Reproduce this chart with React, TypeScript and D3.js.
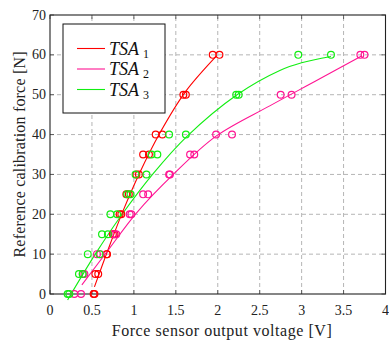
import { useEffect, useRef } from "react";
import * as d3 from "d3";

// measured force steps [N]
const forces = [0, 5, 10, 15, 20, 25, 30, 35, 40, 50, 60];

// sensor output voltages [V], two runs per sensor
const tsa1RunA = [0.52, 0.54, 0.675, 0.75, 0.83, 0.91, 1.03, 1.11, 1.26, 1.59, 1.94];
const tsa1RunB = [0.53, 0.575, 0.68, 0.77, 0.85, 0.94, 1.06, 1.18, 1.34, 1.62, 2.02];
const tsa2RunA = [0.29, 0.39, 0.56, 0.76, 0.95, 1.11, 1.42, 1.67, 1.98, 2.75, 3.7];
const tsa2RunB = [0.37, 0.41, 0.6, 0.79, 0.97, 1.17, 1.43, 1.72, 2.17, 2.88, 3.75];
const tsa3RunA = [0.21, 0.345, 0.45, 0.62, 0.72, 0.92, 1.02, 1.21, 1.42, 2.22, 2.96];
const tsa3RunB = [0.23, 0.39, 0.59, 0.69, 0.8, 0.96, 1.15, 1.28, 1.62, 2.25, 3.35];

// fitted curves
const tsa1FitV = [0.53, 0.69, 0.86, 1.06, 1.31, 1.61, 1.98];
const tsa1FitF = [1.8, 11, 20.3, 30, 40.4, 50.6, 59.6];
const tsa2FitV = [0.38, 0.7, 1.03, 1.47, 1.98, 2.62, 3.2, 3.72];
const tsa2FitF = [2.3, 11.2, 20.3, 30, 39.6, 47.2, 53.8, 59.8];
const tsa3FitV = [0.21, 0.54, 0.86, 1.23, 1.63, 2.23, 2.74, 3.0, 3.35];
const tsa3FitF = [-1.5, 10, 20, 30.2, 39.5, 50, 56.1, 58, 59.6];

const xTicks = [0, 0.5, 1, 1.5, 2, 2.5, 3, 3.5, 4];
const yTicks = [0, 10, 20, 30, 40, 50, 60, 70];

const seriesNames = ["1", "2", "3"];
const seriesColors = ["#ff0000", "#ff1493", "#11ee11"];

function App() {
    const svgRef = useRef<SVGSVGElement>(null);

    useEffect(() => {
        document.body.style.margin = "0";
        const Width = 389;
        const Height = 341;
        const Margin = { top: 15, right: 3.5, bottom: 47, left: 50 };

        const svg = d3.select(svgRef.current).attr("width", Width).attr("height", Height);
        svg.selectAll("*").remove();

        const xScale = d3.scaleLinear().domain([0, 4]).range([Margin.left, Width - Margin.right]);
        const yScale = d3.scaleLinear().domain([0, 70]).range([Height - Margin.bottom, Margin.top]);
        const [x0, x1] = xScale.range();
        const [y0, y1] = yScale.range();

        const font = '"Liberation Serif", "DejaVu Serif", serif';

        // grid
        svg.append("g")
            .selectAll("line")
            .data(xTicks.slice(1, -1))
            .join("line")
            .attr("x1", (d) => xScale(d))
            .attr("x2", (d) => xScale(d))
            .attr("y1", y0)
            .attr("y2", y1)
            .attr("stroke", "#b5b5b5")
            .attr("stroke-dasharray", "4,3");
        svg.append("g")
            .selectAll("line")
            .data(yTicks.slice(1, -1))
            .join("line")
            .attr("x1", x0)
            .attr("x2", x1)
            .attr("y1", (d) => yScale(d))
            .attr("y2", (d) => yScale(d))
            .attr("stroke", "#b5b5b5")
            .attr("stroke-dasharray", "4,3");

        // inner tick marks on all sides
        const ticks = svg.append("g").attr("stroke", "#444").attr("stroke-width", 0.8);
        xTicks.forEach((t) => {
            ticks.append("line").attr("x1", xScale(t)).attr("x2", xScale(t)).attr("y1", y0).attr("y2", y0 - 4);
            ticks.append("line").attr("x1", xScale(t)).attr("x2", xScale(t)).attr("y1", y1).attr("y2", y1 + 4);
        });
        yTicks.forEach((t) => {
            ticks.append("line").attr("x1", x0).attr("x2", x0 + 4).attr("y1", yScale(t)).attr("y2", yScale(t));
            ticks.append("line").attr("x1", x1).attr("x2", x1 - 4).attr("y1", yScale(t)).attr("y2", yScale(t));
        });

        // frame
        svg.append("rect")
            .attr("x", x0)
            .attr("y", y1)
            .attr("width", x1 - x0)
            .attr("height", y0 - y1)
            .attr("fill", "none")
            .attr("stroke", "#222")
            .attr("stroke-width", 1.1);

        // tick labels
        svg.append("g")
            .selectAll("text")
            .data(xTicks)
            .join("text")
            .attr("x", (d) => xScale(d))
            .attr("y", y0 + 21)
            .attr("text-anchor", "middle")
            .style("font-family", font)
            .style("font-size", "14px")
            .attr("fill", "#222")
            .text((d) => String(d));
        svg.append("g")
            .selectAll("text")
            .data(yTicks)
            .join("text")
            .attr("x", x0 - 4)
            .attr("y", (d) => yScale(d) + 4.5)
            .attr("text-anchor", "end")
            .style("font-family", font)
            .style("font-size", "14px")
            .attr("fill", "#222")
            .text((d) => String(d));

        // axis labels
        svg.append("text")
            .attr("x", (x0 + x1) / 2 + 4)
            .attr("y", Height - 5)
            .attr("text-anchor", "middle")
            .style("font-family", font)
            .style("font-size", "16px")
            .attr("fill", "#222")
            .attr("textLength", 220)
            .attr("lengthAdjust", "spacing")
            .text("Force sensor output voltage [V]");
        svg.append("text")
            .attr("transform", `translate(25, ${(y0 + y1) / 2}) rotate(-90)`)
            .attr("text-anchor", "middle")
            .style("font-family", font)
            .style("font-size", "16px")
            .attr("fill", "#222")
            .attr("textLength", 206)
            .attr("lengthAdjust", "spacing")
            .text("Reference calibration force [N]");

        // fitted curves
        const fitLine = d3
            .line<[number, number]>()
            .x((d) => xScale(d[0]))
            .y((d) => yScale(d[1]))
            .curve(d3.curveCatmullRom.alpha(0.5));
        const fits: [number[], number[]][] = [
            [tsa1FitV, tsa1FitF],
            [tsa2FitV, tsa2FitF],
            [tsa3FitV, tsa3FitF],
        ];
        fits.forEach(([vs, fs], i) => {
            svg.append("path")
                .attr("d", fitLine(vs.map((v, j) => [v, fs[j]] as [number, number])))
                .attr("fill", "none")
                .attr("stroke", seriesColors[i])
                .attr("stroke-width", 1.1);
        });

        // measurement circles
        const runs = [
            [tsa1RunA, tsa1RunB],
            [tsa2RunA, tsa2RunB],
            [tsa3RunA, tsa3RunB],
        ];
        runs.forEach((pair, i) => {
            pair.forEach((run) => {
                svg.append("g")
                    .selectAll("circle")
                    .data(run)
                    .join("circle")
                    .attr("cx", (d) => xScale(d))
                    .attr("cy", (_d, j) => yScale(forces[j]))
                    .attr("r", 3.4)
                    .attr("fill", "none")
                    .attr("stroke", seriesColors[i])
                    .attr("stroke-width", 1.2);
            });
        });

        // legend
        const legend = svg.append("g").attr("transform", "translate(63, 24)");
        legend.append("rect")
            .attr("width", 102)
            .attr("height", 89)
            .attr("fill", "white")
            .attr("stroke", "#111")
            .attr("stroke-width", 1);
        seriesNames.forEach((name, i) => {
            const cy = 24.5 + i * 20.5;
            legend.append("line")
                .attr("x1", 14)
                .attr("x2", 42)
                .attr("y1", cy)
                .attr("y2", cy)
                .attr("stroke", seriesColors[i])
                .attr("stroke-width", 1.1);
            const t = legend.append("text")
                .attr("x", 46)
                .attr("y", cy + 6)
                .style("font-family", font)
                .style("font-size", "18px")
                .attr("fill", "#111");
            t.append("tspan").style("font-style", "italic").text("TSA");
            t.append("tspan").attr("dx", 4).attr("dy", 3).style("font-size", "12px").text(name);
        });
    }, []);

    return (
        <svg
            ref={svgRef}
            style={{ position: "absolute", left: 0, top: 0, display: "block", background: "white" }}
        ></svg>
    );
}

export default App;
